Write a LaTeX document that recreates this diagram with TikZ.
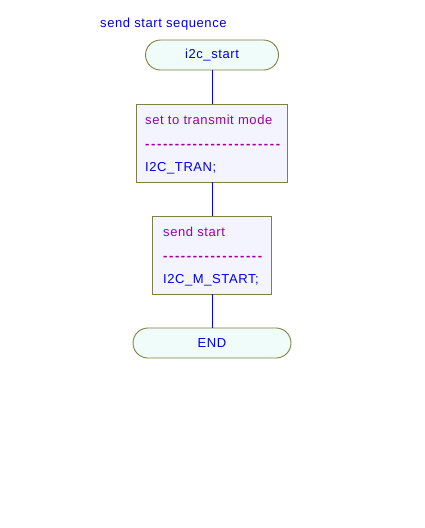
\documentclass[tikz,border=0pt]{standalone}
\usepackage{fontspec}
\setmainfont{Liberation Sans}[LetterSpace=4.5]
\definecolor{txtblue}{RGB}{0,0,230}
\definecolor{txtpurple}{RGB}{160,0,160}
\definecolor{edge}{RGB}{128,128,64}
\definecolor{boxfill}{RGB}{244,244,255}
\definecolor{termfill}{RGB}{240,252,250}
\definecolor{linkblue}{RGB}{0,0,255}
\newcommand{\dd}{-\hfill}
\tikzset{
  term/.style={draw=edge, fill=termfill, rounded corners=15pt, line width=0.9pt,
    minimum height=30pt, inner sep=0pt, text=txtblue, font=\fontsize{13}{15}\selectfont},
  actbox/.style={draw=edge, fill=boxfill, line width=0.9pt, inner sep=0pt},
  lbl/.style={anchor=west, inner sep=0pt, font=\fontsize{13}{15}\selectfont},
  dashlbl/.style={lbl, text=txtpurple, font=\fontsize{13}{15}\selectfont\bfseries},
  link/.style={draw=linkblue, line width=1pt}
}
\begin{document}
\begin{tikzpicture}[x=1pt,y=-1pt]
\useasboundingbox (0,0) rectangle (424,528);
\node[lbl, text=txtblue] (title) at (100,24.5) {send start sequence};
\node[term, minimum width=133pt] (start) at (212,55) {i2c\_start};
\node[actbox, minimum width=151pt, minimum height=78pt] (b1) at (212,143) {};
\node[term, minimum width=158pt] (end) at (212,343) {END};
\node[actbox, minimum width=119pt, minimum height=78pt] (b2) at (212,255) {};
\draw[link] (start.south) -- (b1.north);
\draw[link] (b1.south) -- (b2.north);
\draw[link] (b2.south) -- (end.north);
\node[lbl, text=txtpurple] (b1a) at (145,120) {set to transmit mode};
\node[dashlbl] (b1b) at (145,146) {\hbox to 135pt{\dd\dd\dd\dd\dd\dd\dd\dd\dd\dd\dd\dd\dd\dd\dd\dd\dd\dd\dd\dd\dd\dd-}};
\node[lbl, text=txtblue] (b1c) at (145,168) {I2C\_TRAN;};
\node[lbl, text=txtpurple] (b2a) at (163,232) {send start};
\node[dashlbl] (b2b) at (163,258) {\hbox to 99pt{\dd\dd\dd\dd\dd\dd\dd\dd\dd\dd\dd\dd\dd\dd\dd\dd-}};
\node[lbl, text=txtblue] (b2c) at (163,280) {I2C\_M\_START;};
\end{tikzpicture}
\end{document}
